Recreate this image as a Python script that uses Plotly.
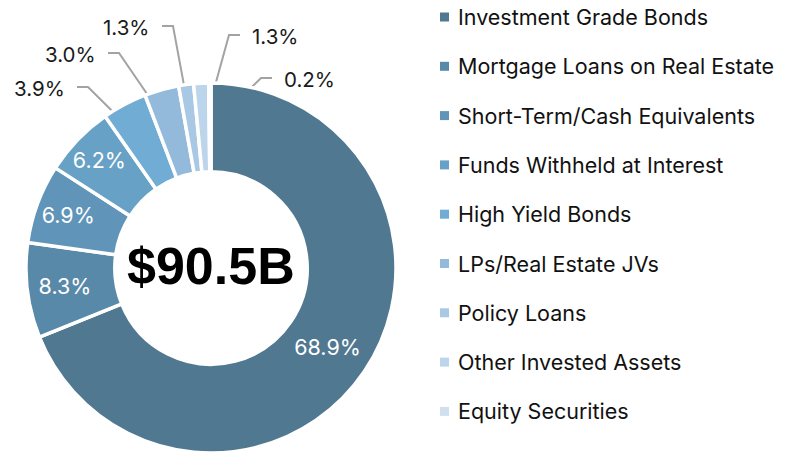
import math
import plotly.graph_objects as go

# invested assets mix
kategorien = [
    "Investment Grade Bonds",
    "Mortgage Loans on Real Estate",
    "Short-Term/Cash Equivalents",
    "Funds Withheld at Interest",
    "High Yield Bonds",
    "LPs/Real Estate JVs",
    "Policy Loans",
    "Other Invested Assets",
    "Equity Securities",
]
anteile = [68.9, 8.3, 6.9, 6.2, 3.9, 3.0, 1.3, 1.3, 0.2]
farben = ["#507891", "#5889a9", "#6095b9", "#68a1c6", "#71acd4",
          "#93badb", "#a8c8e3", "#bcd5ea", "#d0e0ee"]
gesamt = "$90.5B"

# slices labelled inside the ring, the rest get leader lines
innen = [True, True, True, True, False, False, False, False, False]

# layout (pixels as seen in the browser; the page body adds 8px margin)
OFF = 8
W, H = 786, 455
cx, cy, R = 211 - OFF, 268 - OFF, 185
hole = 0.52

# outer end of each leader line and which side the text sits on
leader_start = {4: (77, 87, "l"), 5: (108, 53, "l"), 6: (162, 26, "l"),
                7: (240, 35, "r"), 8: (272, 78, "r")}

fig = go.Figure()
fig.add_trace(go.Pie(
    labels=kategorien, values=anteile, sort=False, direction="clockwise",
    rotation=0, hole=hole, showlegend=False,
    marker=dict(colors=farben, line=dict(color="white", width=3.5)),
    text=[f"{v:.1f}%" if i else "" for v, i in zip(anteile, innen)],
    textinfo="text", textposition="inside", insidetextorientation="horizontal",
    textfont=dict(family="Inter", size=21.5, color="white"),
    domain=dict(x=[(cx - R) / W, (cx + R) / W],
                y=[(H - cy - R) / H, (H - cy + R) / H]),
    hoverinfo="label+percent",
))

annotations = [dict(text=f"<b>{gesamt}</b>", x=cx, y=cy - 2, xref="x", yref="y",
                    showarrow=False,
                    font=dict(family="Liberation Sans", size=52, color="black"))]

# leader lines for the small slices
r_mid = R * (1 + hole) / 2
summe = sum(anteile)
kum = 0
for idx, v in enumerate(anteile):
    mitte = (kum + v / 2) / summe * 2 * math.pi
    kum += v
    if idx not in leader_start:
        continue
    sx, sy, seite = leader_start[idx]
    sx, sy = sx - OFF, sy - OFF
    ex = sx + 11 if seite == "l" else sx - 11
    tx = cx + r_mid * math.sin(mitte)
    ty = cy - r_mid * math.cos(mitte)
    fig.add_trace(go.Scatter(
        x=[sx, ex, tx], y=[sy, sy, ty], mode="lines",
        line=dict(color="#a3a3a3", width=2), showlegend=False, hoverinfo="skip"))
    annotations.append(dict(
        text=f"{v:.1f}%", x=sx - 10 if seite == "l" else sx + 10, y=sy + 1,
        xref="x", yref="y", showarrow=False,
        xanchor="right" if seite == "l" else "left",
        font=dict(family="Inter", size=20.5, color="#1a1a1a")))

# legend on the right
zeilen_y = [17 - OFF + 49.3 * i for i in range(len(kategorien))]
fig.add_trace(go.Scatter(
    x=[444.5 - OFF] * len(kategorien), y=zeilen_y, mode="markers",
    marker=dict(symbol="square", size=9, color=farben),
    showlegend=False, hoverinfo="skip"))
for name, y in zip(kategorien, zeilen_y):
    annotations.append(dict(
        text=name, x=456 - OFF, y=y, xref="x", yref="y", showarrow=False,
        xanchor="left", font=dict(family="Inter", size=21.5, color="#111111")))

fig.update_layout(
    width=W, height=H, margin=dict(l=0, r=0, t=0, b=0),
    paper_bgcolor="white", plot_bgcolor="rgba(0,0,0,0)",
    xaxis=dict(range=[0, W], visible=False, fixedrange=True),
    yaxis=dict(range=[H, 0], visible=False, fixedrange=True),
    annotations=annotations,
)
fig.write_html("out.html")
